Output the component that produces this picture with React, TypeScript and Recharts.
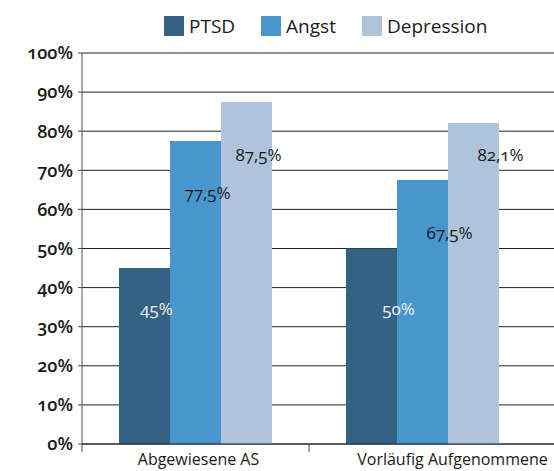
import React from "react";
import { BarChart, Bar, XAxis, YAxis, CartesianGrid, Legend, LabelList } from "recharts";

const categories = ["Abgewiesene AS", "Vorläufig Aufgenommene"];
const ptsd = [45, 50];
const angst = [77.5, 67.5];
const depression = [87.5, 82.1];
const valueLabels = {
  ptsd: ["45%", "50%"],
  angst: ["77,5%", "67,5%"],
  depression: ["87,5%", "82,1%"],
};
const yTicks = [0, 10, 20, 30, 40, 50, 60, 70, 80, 90, 100];
const seriesNames = ["PTSD", "Angst", "Depression"];

const data = categories.map((c, i) => ({
  name: c,
  ptsd: ptsd[i],
  angst: angst[i],
  depression: depression[i],
}));

const COLORS = ["#346283", "#4996CE", "#ADC4DB"];
const CHART_W = 600;
const CHART_H = 471;
const Y_W = 82;
const PAD_R = 64;
const BAND = (CHART_W - Y_W - PAD_R) / categories.length;
const TICK_DX = [3, 30];
const LABEL_DX = [12, 27];
const FONT = "'Open Sans', sans-serif";

const XTick = (props: any) => {
  const { x, y, payload, index } = props;
  return (
    <g>
      <line x1={x - BAND / 2} x2={x - BAND / 2} y1={y} y2={y + 8} stroke="#444" strokeWidth={1} />
      <text
        x={x + (TICK_DX[index] || 0)}
        y={y + 21}
        textAnchor="middle"
        fontSize={16}
        fill="#1a1a1a"
        style={{ fontFeatureSettings: "'onum' 1" }}
      >
        {payload.value}
      </text>
    </g>
  );
};

const makeLabel = (key: "ptsd" | "angst" | "depression", mode: string, off: number, fill: string) => (props: any) => {
  const { x, y, width, height, index } = props;
  const bottom = y + height;
  const ty = mode === "top" ? y + off : bottom - off;
  return (
    <text
      x={x + width / 2 + (LABEL_DX[index] || 0)}
      y={ty}
      textAnchor="middle"
      dominantBaseline="central"
      fontSize={17}
      fill={fill}
      style={{ fontFeatureSettings: "'onum' 1" }}
    >
      {valueLabels[key][index]}
    </text>
  );
};

const LegendContent = () => (
  <div style={{ display: "flex", alignItems: "center", fontFamily: FONT, fontSize: 19, color: "#1a1a1a", whiteSpace: "nowrap" }}>
    {seriesNames.map((n, i) => (
      <div key={n} style={{ display: "flex", alignItems: "center", marginRight: 26 }}>
        <div style={{ width: 20, height: 20, background: COLORS[i], marginRight: 5 }} />
        <span style={{ lineHeight: "20px" }}>{n}</span>
      </div>
    ))}
  </div>
);

export default function App() {
  return (
    <div
      style={{
        position: "absolute",
        left: 0,
        top: 0,
        width: 554,
        height: 471,
        overflow: "hidden",
        background: "#fff",
        fontFamily: FONT,
        fontFeatureSettings: "'onum' 1",
      }}
    >
      <BarChart
        width={CHART_W}
        height={CHART_H}
        data={data}
        margin={{ top: 53, right: 0, bottom: 0, left: 0 }}
        barGap={0}
        barSize={51}
      >
        <CartesianGrid vertical={false} stroke="#222" strokeWidth={1} />
        <XAxis
          dataKey="name"
          height={27}
          padding={{ left: 0, right: PAD_R }}
          axisLine={{ stroke: "#222", strokeWidth: 1 }}
          tickLine={false}
          tickSize={0}
          tickMargin={0}
          tick={<XTick />}
          interval={0}
        />
        <YAxis
          width={Y_W}
          domain={[0, 100]}
          ticks={yTicks}
          interval={0}
          tickFormatter={(v: number) => `${v}%`}
          axisLine={{ stroke: "#555", strokeWidth: 1 }}
          tickLine={{ stroke: "#444" }}
          tickSize={4}
          tickMargin={5}
          tick={{ fontSize: 18, fontWeight: 600, fill: "#1a1a1a" }}
        />
        <Legend
          verticalAlign="middle"
          align="center"
          layout="horizontal"
          wrapperStyle={{ top: 16, left: 164, width: 420, height: 22 }}
          content={<LegendContent />}
        />
        <Bar dataKey="ptsd" name="PTSD" fill={COLORS[0]} isAnimationActive={false}>
          <LabelList dataKey="ptsd" content={makeLabel("ptsd", "bottom", 136, "#eef2f6")} />
        </Bar>
        <Bar dataKey="angst" name="Angst" fill={COLORS[1]} isAnimationActive={false}>
          <LabelList dataKey="angst" content={makeLabel("angst", "top", 52, "#1a1a1a")} />
        </Bar>
        <Bar dataKey="depression" name="Depression" fill={COLORS[2]} isAnimationActive={false}>
          <LabelList dataKey="depression" content={makeLabel("depression", "bottom", 290, "#1a1a1a")} />
        </Bar>
      </BarChart>
    </div>
  );
}
